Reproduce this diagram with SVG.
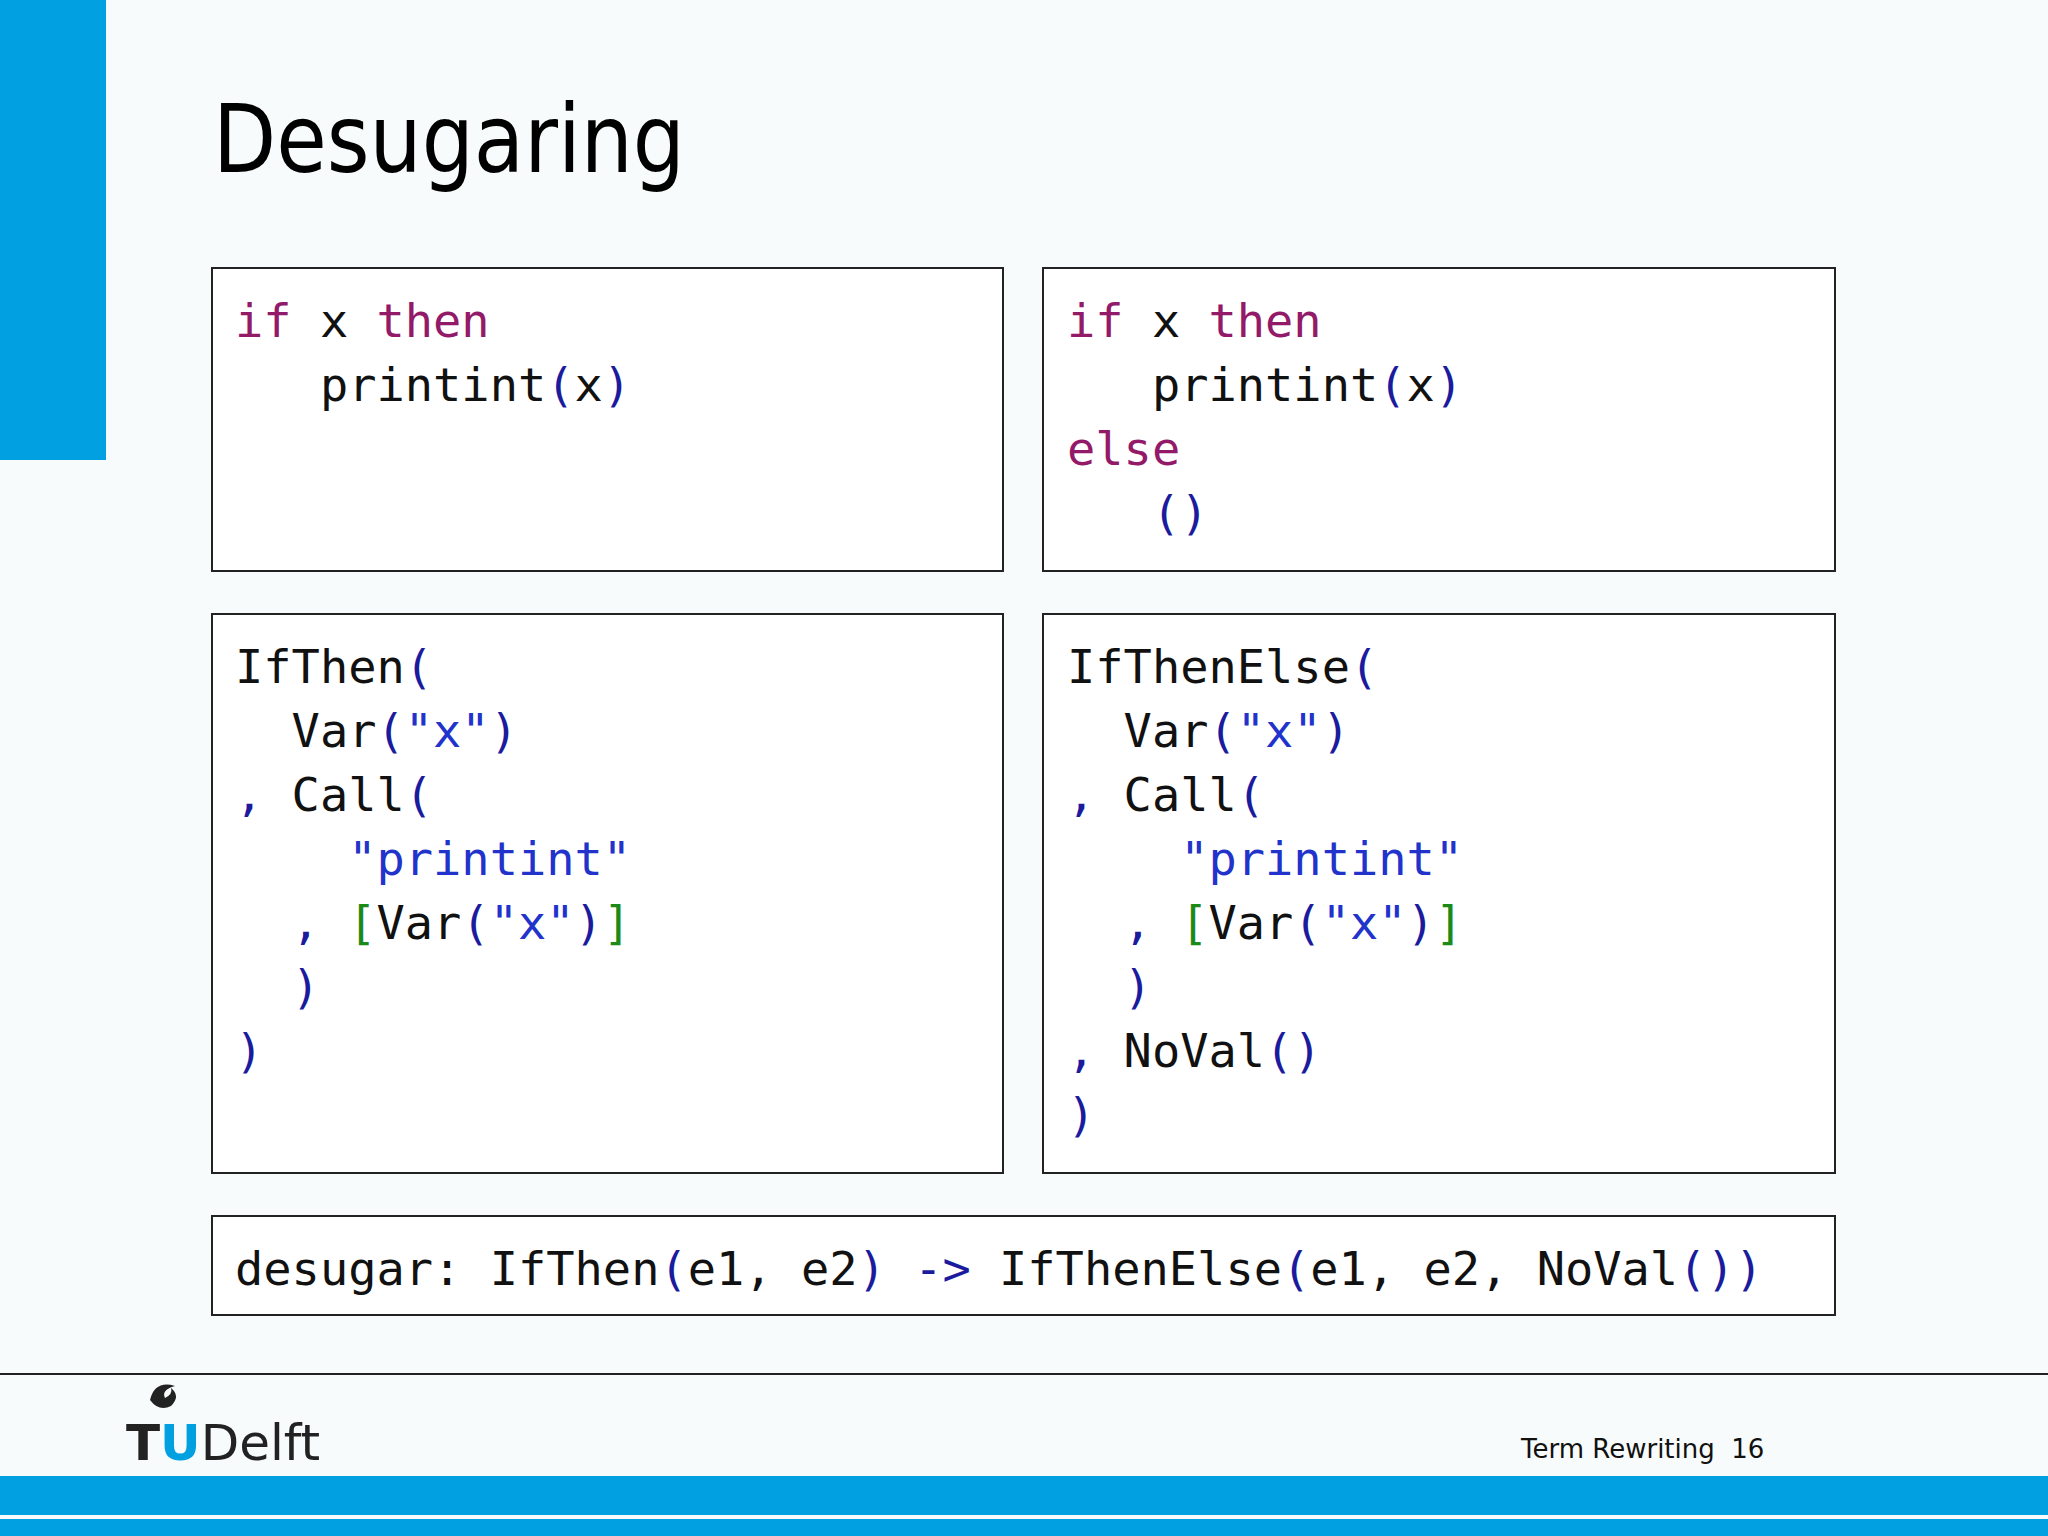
<svg xmlns="http://www.w3.org/2000/svg" width="2048" height="1536" viewBox="0 0 2048 1536">
<style>
.box{fill:#fff;stroke:#222;stroke-width:2}
.code{font-family:"DejaVu Sans Mono","Liberation Mono",monospace;font-size:47px;fill:#111}
.k{fill:#931a68}.p{fill:#1b1b9e}.s{fill:#2233cc}.g{fill:#1a8a1a}
</style>
<rect width="2048" height="1536" fill="#f8fbfb"/>
<rect x="0" y="0" width="106" height="460" fill="#00a0e1"/>
<text x="213" y="172" font-family="DejaVu Sans,Verdana,sans-serif" font-size="94" fill="#000" textLength="472" lengthAdjust="spacingAndGlyphs">Desugaring</text>
<g id="box1"><rect class="box" x="212" y="268" width="791" height="303"/>
<text class="code" xml:space="preserve"><tspan x="235" y="337"><tspan class="k">if</tspan> x <tspan class="k">then</tspan></tspan><tspan x="235" y="401">   printint<tspan class="p">(</tspan>x<tspan class="p">)</tspan></tspan></text></g>
<g id="box2"><rect class="box" x="1043" y="268" width="792" height="303"/>
<text class="code" xml:space="preserve"><tspan x="1067" y="337"><tspan class="k">if</tspan> x <tspan class="k">then</tspan></tspan><tspan x="1067" y="401">   printint<tspan class="p">(</tspan>x<tspan class="p">)</tspan></tspan><tspan x="1067" y="465" class="k">else</tspan><tspan x="1067" y="529" class="p">   ()</tspan></text></g>
<g id="box3"><rect class="box" x="212" y="614" width="791" height="559"/>
<text class="code" xml:space="preserve"><tspan x="235" y="683">IfThen<tspan class="p">(</tspan></tspan><tspan x="235" y="747">  Var<tspan class="p">(</tspan><tspan class="s">"x"</tspan><tspan class="p">)</tspan></tspan><tspan x="235" y="811"><tspan class="p">,</tspan> Call<tspan class="p">(</tspan></tspan><tspan x="235" y="875" class="s">    "printint"</tspan><tspan x="235" y="939">  <tspan class="p">,</tspan> <tspan class="g">[</tspan>Var<tspan class="p">(</tspan><tspan class="s">"x"</tspan><tspan class="p">)</tspan><tspan class="g">]</tspan></tspan><tspan x="235" y="1003" class="p">  )</tspan><tspan x="235" y="1067" class="p">)</tspan></text></g>
<g id="box4"><rect class="box" x="1043" y="614" width="792" height="559"/>
<text class="code" xml:space="preserve"><tspan x="1067" y="683">IfThenElse<tspan class="p">(</tspan></tspan><tspan x="1067" y="747">  Var<tspan class="p">(</tspan><tspan class="s">"x"</tspan><tspan class="p">)</tspan></tspan><tspan x="1067" y="811"><tspan class="p">,</tspan> Call<tspan class="p">(</tspan></tspan><tspan x="1067" y="875" class="s">    "printint"</tspan><tspan x="1067" y="939">  <tspan class="p">,</tspan> <tspan class="g">[</tspan>Var<tspan class="p">(</tspan><tspan class="s">"x"</tspan><tspan class="p">)</tspan><tspan class="g">]</tspan></tspan><tspan x="1067" y="1003" class="p">  )</tspan><tspan x="1067" y="1067"><tspan class="p">,</tspan> NoVal<tspan class="p">()</tspan></tspan><tspan x="1067" y="1131" class="p">)</tspan></text></g>
<g id="box5"><rect class="box" x="212" y="1216" width="1623" height="99"/>
<text class="code" xml:space="preserve" x="235" y="1285">desugar: IfThen<tspan class="p">(</tspan>e1, e2<tspan class="p">)</tspan> <tspan class="p">-&gt;</tspan> IfThenElse<tspan class="p">(</tspan>e1, e2, NoVal<tspan class="p">())</tspan></text></g>
<line x1="0" y1="1374" x2="2048" y2="1374" stroke="#222" stroke-width="2"/>
<g id="logo">
<path d="M150 1400 q5 -20 25 -14 q-14 4 -10 12 q8 -4 6 -10 q10 8 0 18 q-12 6 -21 -6z" fill="#222"/>
<text x="126" y="1460" font-family="DejaVu Sans,Verdana,sans-serif" font-size="50" font-weight="bold" fill="#222">T<tspan fill="#00a0e1">U</tspan><tspan font-weight="normal">Delft</tspan></text>
</g>
<text x="1521" y="1458" font-family="DejaVu Sans,Verdana,sans-serif" font-size="26" fill="#111" xml:space="preserve">Term Rewriting  16</text>
<rect x="0" y="1476" width="2048" height="39" fill="#00a0e1"/>
<rect x="0" y="1519" width="2048" height="17" fill="#00a0e1"/>
</svg>
